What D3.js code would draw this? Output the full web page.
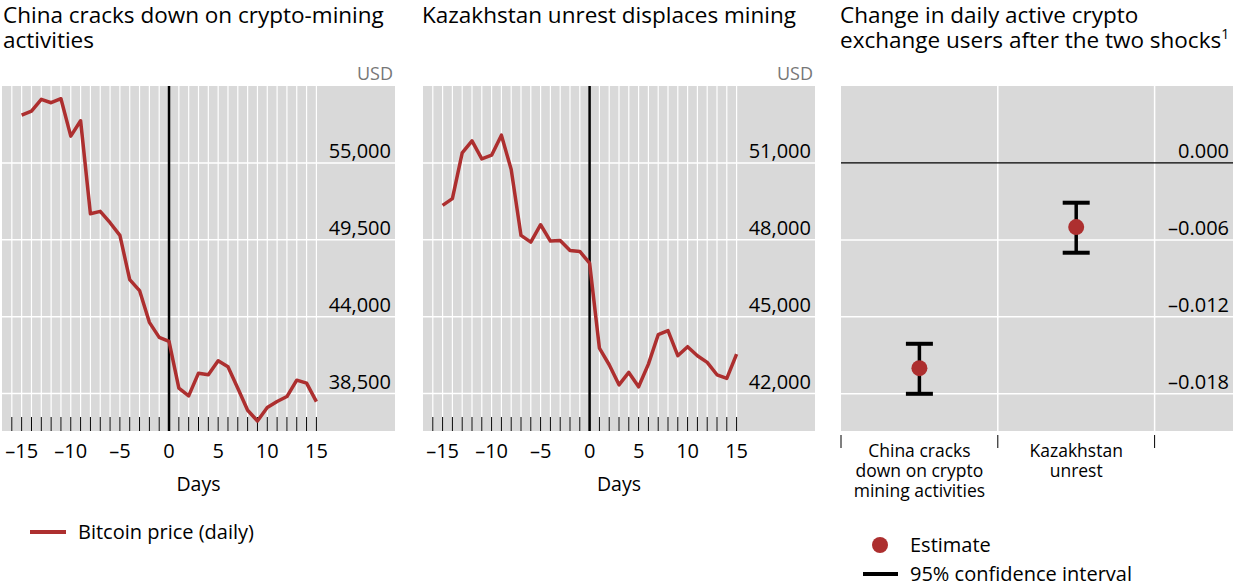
<!DOCTYPE html>
<html>
<head>
<meta charset="utf-8">
<script src="https://cdn.jsdelivr.net/npm/d3@7"></script>
<style>
  body { margin: 0; background: #fff; }
  text { font-family: "Open Sans", "Noto Sans", sans-serif; fill: #000; }
</style>
</head>
<body>
<svg width="1236" height="586"></svg>
<script>
const days = d3.range(-15, 16);
// Bitcoin price around the China crackdown (USD)
const chinaPrice = [58420, 58706, 59543, 59304, 59591, 56913, 58013, 51366, 51533, 50720,
  49811, 46655, 45866, 43595, 42519, 42232, 38885, 38334, 39960, 39840,
  40845, 40415, 38885, 37307, 36541, 37498, 37928, 38287, 39458, 39243, 37928];
// Bitcoin price around the Kazakhstan unrest (USD)
const kazPrice = [49344, 49605, 51391, 51861, 51157, 51300, 52082, 50739, 48170, 47909,
  48587, 47948, 47974, 47583, 47544, 47087, 43776, 43124, 42341, 42824,
  42263, 43150, 44297, 44454, 43476, 43828, 43476, 43215, 42733, 42589, 43541];
const chinaTicks = [38500, 44000, 49500, 55000];
const kazTicks = [42000, 45000, 48000, 51000];
const dayTicks = [-15, -10, -5, 0, 5, 10, 15];

const shocks = ["China cracks down on crypto mining activities", "Kazakhstan unrest"];
const shockLabels = [["China cracks", "down on crypto", "mining activities"], ["Kazakhstan", "unrest"]];
const estimate = [-0.0160, -0.0050];
const ciLow = [-0.0180, -0.0070];
const ciHigh = [-0.0141, -0.0031];
const effectTicks = [0, -0.006, -0.012, -0.018];

const red = "#ad2f2f";
const grey = "#d9d9d9";
const svg = d3.select("svg");
const plotTop = 86, plotBottom = 431;
const fmt = d3.format(",");

function title(x, lines) {
  const t = svg.append("text").attr("x", x).attr("y", 23).style("font-size", "22.5px");
  lines.forEach((l, i) => {
    const ts = t.append("tspan").attr("x", x).attr("dy", i ? 25 : 0);
    if (l.endsWith("¹")) {
      ts.text(l.slice(0, -1));
      t.append("tspan").attr("dy", -9).style("font-size", "14px").text("1");
    } else ts.text(l);
  });
}

function pricePanel(x0, x1, values, ticks, domain, name) {
  const x = d3.scaleLinear().domain([-17, 23]).range([x0, x1]);
  const y = d3.scaleLinear().domain(domain).range([plotBottom, plotTop]);
  const g = svg.append("g");
  g.append("rect").attr("x", x0).attr("y", plotTop).attr("width", x1 - x0).attr("height", plotBottom - plotTop).attr("fill", grey);
  // vertical day grid
  g.selectAll(".vg").data(d3.range(-16, 16)).enter().append("line")
    .attr("x1", d => x(d)).attr("x2", d => x(d)).attr("y1", plotTop).attr("y2", plotBottom)
    .attr("stroke", "#fff").attr("stroke-width", 1.2);
  // horizontal grid
  g.selectAll(".hg").data(ticks).enter().append("line")
    .attr("x1", x0).attr("x2", x1).attr("y1", d => y(d)).attr("y2", d => y(d))
    .attr("stroke", "#fff").attr("stroke-width", 1.5);
  // day ticks inside bottom
  g.selectAll(".tk").data(d3.range(-16, 16)).enter().append("line")
    .attr("x1", d => x(d)).attr("x2", d => x(d)).attr("y1", plotBottom - 14).attr("y2", plotBottom)
    .attr("stroke", "#000").attr("stroke-width", 1);
  // event line
  g.append("line").attr("x1", x(0)).attr("x2", x(0)).attr("y1", plotTop).attr("y2", plotBottom)
    .attr("stroke", "#000").attr("stroke-width", 2.5);
  g.append("path").datum(values)
    .attr("fill", "none").attr("stroke", red).attr("stroke-width", 3.5).attr("stroke-linejoin", "round")
    .attr("d", d3.line().x((d, i) => x(days[i])).y(d => y(d)));
  g.selectAll(".yl").data(ticks).enter().append("text")
    .attr("x", x1 - 4).attr("y", d => y(d) - 5).attr("text-anchor", "end")
    .style("font-size", "20px").text(d => fmt(d));
  g.append("text").attr("x", x1 - 2).attr("y", 80).attr("text-anchor", "end")
    .style("font-size", "18px").style("fill", "#777").text("USD");
  g.selectAll(".xl").data(dayTicks).enter().append("text")
    .attr("x", d => x(d)).attr("y", 458).attr("text-anchor", "middle")
    .style("font-size", "20px").text(d => d < 0 ? "\u2013" + Math.abs(d) : d);
  g.append("text").attr("x", (x0 + x1) / 2).attr("y", 491).attr("text-anchor", "middle")
    .style("font-size", "19.5px").text(name);
}

title(3, ["China cracks down on crypto-mining", "activities"]);
title(422, ["Kazakhstan unrest displaces mining"]);
title(840, ["Change in daily active crypto", "exchange users after the two shocks¹"]);

pricePanel(2, 395, chinaPrice, chinaTicks, [35822, 60500], "Days");
pricePanel(423, 815, kazPrice, kazTicks, [40539, 54000], "Days");

// legend left
svg.append("line").attr("x1", 30).attr("x2", 66).attr("y1", 532).attr("y2", 532)
  .attr("stroke", red).attr("stroke-width", 4);
svg.append("text").attr("x", 78).attr("y", 539).style("font-size", "20px").text("Bitcoin price (daily)");

// effect panel
const ex0 = 841, ex1 = 1233;
const ex = d3.scaleLinear().domain([-0.5, 2]).range([ex0, ex1]);
const ey = d3.scaleLinear().domain([-0.0209, 0.006]).range([plotBottom, plotTop]);
const e = svg.append("g");
e.append("rect").attr("x", ex0).attr("y", plotTop).attr("width", ex1 - ex0).attr("height", plotBottom - plotTop).attr("fill", grey);
e.selectAll(".vg").data([0.5, 1.5]).enter().append("line")
  .attr("x1", d => ex(d)).attr("x2", d => ex(d)).attr("y1", plotTop).attr("y2", plotBottom)
  .attr("stroke", "#fff").attr("stroke-width", 1.5);
e.selectAll(".hg").data(effectTicks.filter(d => d !== 0)).enter().append("line")
  .attr("x1", ex0).attr("x2", ex1).attr("y1", d => ey(d)).attr("y2", d => ey(d))
  .attr("stroke", "#fff").attr("stroke-width", 1.5);
e.append("line").attr("x1", ex0).attr("x2", ex1).attr("y1", ey(0)).attr("y2", ey(0))
  .attr("stroke", "#000").attr("stroke-width", 1.3);
e.selectAll(".yl").data(effectTicks).enter().append("text")
  .attr("x", 1229).attr("y", d => ey(d) - 5).attr("text-anchor", "end")
  .style("font-size", "20px").text(d => d === 0 ? "0.000" : "\u2013" + Math.abs(d).toFixed(3));
e.selectAll(".bt").data([-0.5, 0.5, 1.5]).enter().append("line")
  .attr("x1", d => ex(d)).attr("x2", d => ex(d)).attr("y1", 435).attr("y2", 448)
  .attr("stroke", "#000").attr("stroke-width", 1);
shocks.forEach((s, i) => {
  const cx = ex(i);
  e.append("line").attr("x1", cx).attr("x2", cx).attr("y1", ey(ciLow[i])).attr("y2", ey(ciHigh[i]))
    .attr("stroke", "#000").attr("stroke-width", 3.5);
  [ciLow[i], ciHigh[i]].forEach(v => {
    e.append("line").attr("x1", cx - 13.5).attr("x2", cx + 13.5).attr("y1", ey(v)).attr("y2", ey(v))
      .attr("stroke", "#000").attr("stroke-width", 4);
  });
  e.append("circle").attr("cx", cx).attr("cy", ey(estimate[i])).attr("r", 8).attr("fill", red);
  const t = e.append("text").attr("x", cx).attr("y", 457).attr("text-anchor", "middle").style("font-size", "17.5px");
  shockLabels[i].forEach((l, j) => t.append("tspan").attr("x", cx).attr("dy", j ? 20 : 0).text(l));
});

// legend right
svg.append("circle").attr("cx", 880).attr("cy", 545).attr("r", 8).attr("fill", red);
svg.append("text").attr("x", 910).attr("y", 552).style("font-size", "20px").text("Estimate");
svg.append("line").attr("x1", 863).attr("x2", 898).attr("y1", 574).attr("y2", 574)
  .attr("stroke", "#000").attr("stroke-width", 4);
svg.append("text").attr("x", 910).attr("y", 581).style("font-size", "20px").text("95% confidence interval");
</script>
</body>
</html>
